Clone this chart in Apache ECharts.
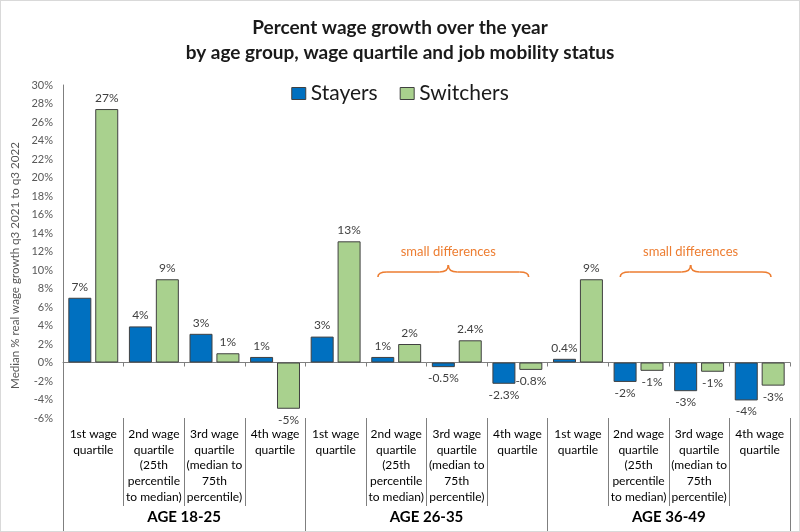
<!DOCTYPE html>
<html>
<head>
<meta charset="utf-8">
<script src="https://cdn.jsdelivr.net/npm/echarts@6/dist/echarts.min.js"></script>
<style>
html,body{margin:0;padding:0;background:#fff;}
#c{width:800px;height:532px;position:relative;}
#frame{position:absolute;left:0;top:0;width:798px;height:530px;border:1px solid #d9d9d9;pointer-events:none;}
</style>
</head>
<body>
<div id="c"></div>
<div id="frame"></div>
<script>
// ---- data ----
const ageGroups = ['AGE 18-25', 'AGE 26-35', 'AGE 36-49'];
const quartiles = [
  '1st wage\nquartile',
  '2nd wage\nquartile\n(25th\npercentile\nto median)',
  '3rd wage\nquartile\n(median to\n75th\npercentile)',
  '4th wage\nquartile'
];
const stayers   = [7.0, 3.9, 3.1, 0.6, 2.8, 0.6, -0.5, -2.3, 0.4, -2.1, -3.1, -4.1];
const switchers = [27.4, 9.0, 1.0, -5.0, 13.1, 2.0, 2.4, -0.8, 9.0, -0.9, -1.0, -2.5];
const stayerLabels   = ['7%', '4%', '3%', '1%', '3%', '1%', '-0.5%', '-2.3%', '0.4%', '-2%', '-3%', '-4%'];
const switcherLabels = ['27%', '9%', '1%', '-5%', '13%', '2%', '2.4%', '-0.8%', '9%', '-1%', '-1%', '-3%'];
const annotationText = 'small differences';
const annotationRanges = [[5, 7], [9, 11]]; // category index ranges

// ---- chart ----
const FONT = 'Lato, "Noto Sans", sans-serif';
const categories = [];
ageGroups.forEach(() => quartiles.forEach(q => categories.push(q)));

function seriesData(vals, labels) {
  return vals.map((v, i) => ({
    value: v,
    label: { position: v >= 0 ? 'top' : 'bottom', formatter: labels[i] }
  }));
}

const chart = echarts.init(document.getElementById('c'), null, { renderer: 'canvas' });
const option = {
  animation: false,
  textStyle: { fontFamily: FONT },
  title: {
    text: 'Percent wage growth over the year\nby age group, wage quartile and job mobility status',
    left: 'center',
    top: 10,
    textStyle: { fontFamily: FONT, fontSize: 19, fontWeight: 'bold', color: '#1a1a1a', lineHeight: 25 }
  },
  legend: {
    top: 78,
    left: 'center',
    itemWidth: 14,
    itemHeight: 12,
    itemGap: 22,
    textStyle: { fontFamily: FONT, fontSize: 21, color: '#1a1a1a' },
    data: [
      { name: 'Stayers', icon: 'rect', itemStyle: { borderColor: '#404040', borderWidth: 1 } },
      { name: 'Switchers', icon: 'rect', itemStyle: { borderColor: '#404040', borderWidth: 1 } }
    ]
  },
  grid: { left: 63, right: 10, top: 85, bottom: 114, containLabel: false, outerBoundsMode: 'none' },
  yAxis: {
    type: 'value',
    min: -6, max: 30, interval: 2,
    name: 'Median % real wage growth q3 2021 to q3 2022',
    nameLocation: 'middle',
    nameRotate: 90,
    nameGap: 42,
    nameMoveOverlap: false,
    nameTextStyle: { fontFamily: FONT, fontSize: 11.6, color: '#595959', padding: [0, 28, 0, 0] },
    axisLine: { show: true, lineStyle: { color: '#7f7f7f', width: 1 } },
    axisTick: { show: false },
    splitLine: { show: false },
    axisLabel: { formatter: '{value}%', fontFamily: FONT, fontSize: 11, color: '#595959', margin: 10 }
  },
  xAxis: [
    {
      type: 'category',
      data: categories,
      position: 'bottom',
      axisLine: { onZero: true, lineStyle: { color: '#7f7f7f', width: 1 } },
      axisTick: { show: true, interval: 0, length: 4, lineStyle: { color: '#7f7f7f' } },
      axisLabel: { show: false },
      splitLine: { show: false }
    },
    {
      type: 'category',
      data: categories,
      position: 'bottom',
      axisLine: { show: false, onZero: false },
      axisTick: { show: true, interval: 0, length: 88, lineStyle: { color: '#7f7f7f' } },
      axisLabel: { interval: 0, margin: 8, fontFamily: FONT, fontSize: 12, lineHeight: 15.8, color: '#000' },
      splitLine: { show: false }
    },
    {
      type: 'category',
      data: ageGroups,
      position: 'bottom',
      axisLine: { show: false, onZero: false },
      axisTick: { show: true, interval: 0, length: 116, lineStyle: { color: '#7f7f7f' } },
      axisLabel: { interval: 0, margin: 92, hideOverlap: false, fontFamily: FONT, fontSize: 15, fontWeight: 'bold', color: '#000' },
      splitLine: { show: false }
    },
    {
      type: 'category',
      data: ageGroups,
      position: 'bottom',
      axisLine: { show: false, onZero: true },
      axisTick: { show: true, interval: 0, length: 60, lineStyle: { color: '#7f7f7f' } },
      axisLabel: { show: false },
      splitLine: { show: false }
    }
  ],
  series: [
    {
      name: 'Stayers', type: 'bar', xAxisIndex: 0,
      data: seriesData(stayers, stayerLabels),
      barWidth: 23, barGap: '17%',
      itemStyle: { color: '#0070C0', borderColor: '#404040', borderWidth: 1 },
      label: { show: true, distance: 5, fontFamily: FONT, fontSize: 12, color: '#404040' }
    },
    {
      name: 'Switchers', type: 'bar', xAxisIndex: 0,
      data: seriesData(switchers, switcherLabels),
      barWidth: 23, barGap: '17%',
      itemStyle: { color: '#A9D18E', borderColor: '#404040', borderWidth: 1 },
      label: { show: true, distance: 5, fontFamily: FONT, fontSize: 12, color: '#404040' }
    }
  ]
};
chart.setOption(option);

// ---- annotations (braces) positioned through the axes ----
function px(i) { return chart.convertToPixel({ xAxisIndex: 0 }, i); }
const catW = px(1) - px(0);
const yLine = chart.convertToPixel({ yAxisIndex: 0 }, 10) + 2;
const braceStyle = { fill: null, stroke: '#ED7D31', lineWidth: 1.6 };
const graphics = [];
annotationRanges.forEach(([a, b]) => {
  const x1 = px(a) - catW / 2 + 12;
  const x2 = px(b) + catW / 2 - 19;
  const xm = (x1 + x2) / 2 - 5;
  const yEnd = yLine + 5, yCusp = yLine - 7, r = 9;
  const curves = [
    [x1, yEnd, x1 + r, yLine, x1, yLine],
    [xm - r, yLine, xm, yCusp, xm, yLine],
    [xm, yCusp, xm + r, yLine, xm, yLine],
    [x2 - r, yLine, x2, yEnd, x2, yLine]
  ];
  curves.forEach(c => graphics.push({
    type: 'bezierCurve', z: 10,
    shape: { x1: c[0], y1: c[1], x2: c[2], y2: c[3], cpx1: c[4], cpy1: c[5] },
    style: braceStyle
  }));
  graphics.push({ type: 'line', z: 10, shape: { x1: x1 + r, y1: yLine, x2: xm - r, y2: yLine }, style: braceStyle });
  graphics.push({ type: 'line', z: 10, shape: { x1: xm + r, y1: yLine, x2: x2 - r, y2: yLine }, style: braceStyle });
  graphics.push({
    type: 'text', x: xm, y: yLine - 20, z: 10,
    style: { text: annotationText, fill: '#ED7D31', font: '13px ' + FONT, textAlign: 'center', textVerticalAlign: 'middle' }
  });
});
chart.setOption({ graphic: graphics });
</script>
</body>
</html>
